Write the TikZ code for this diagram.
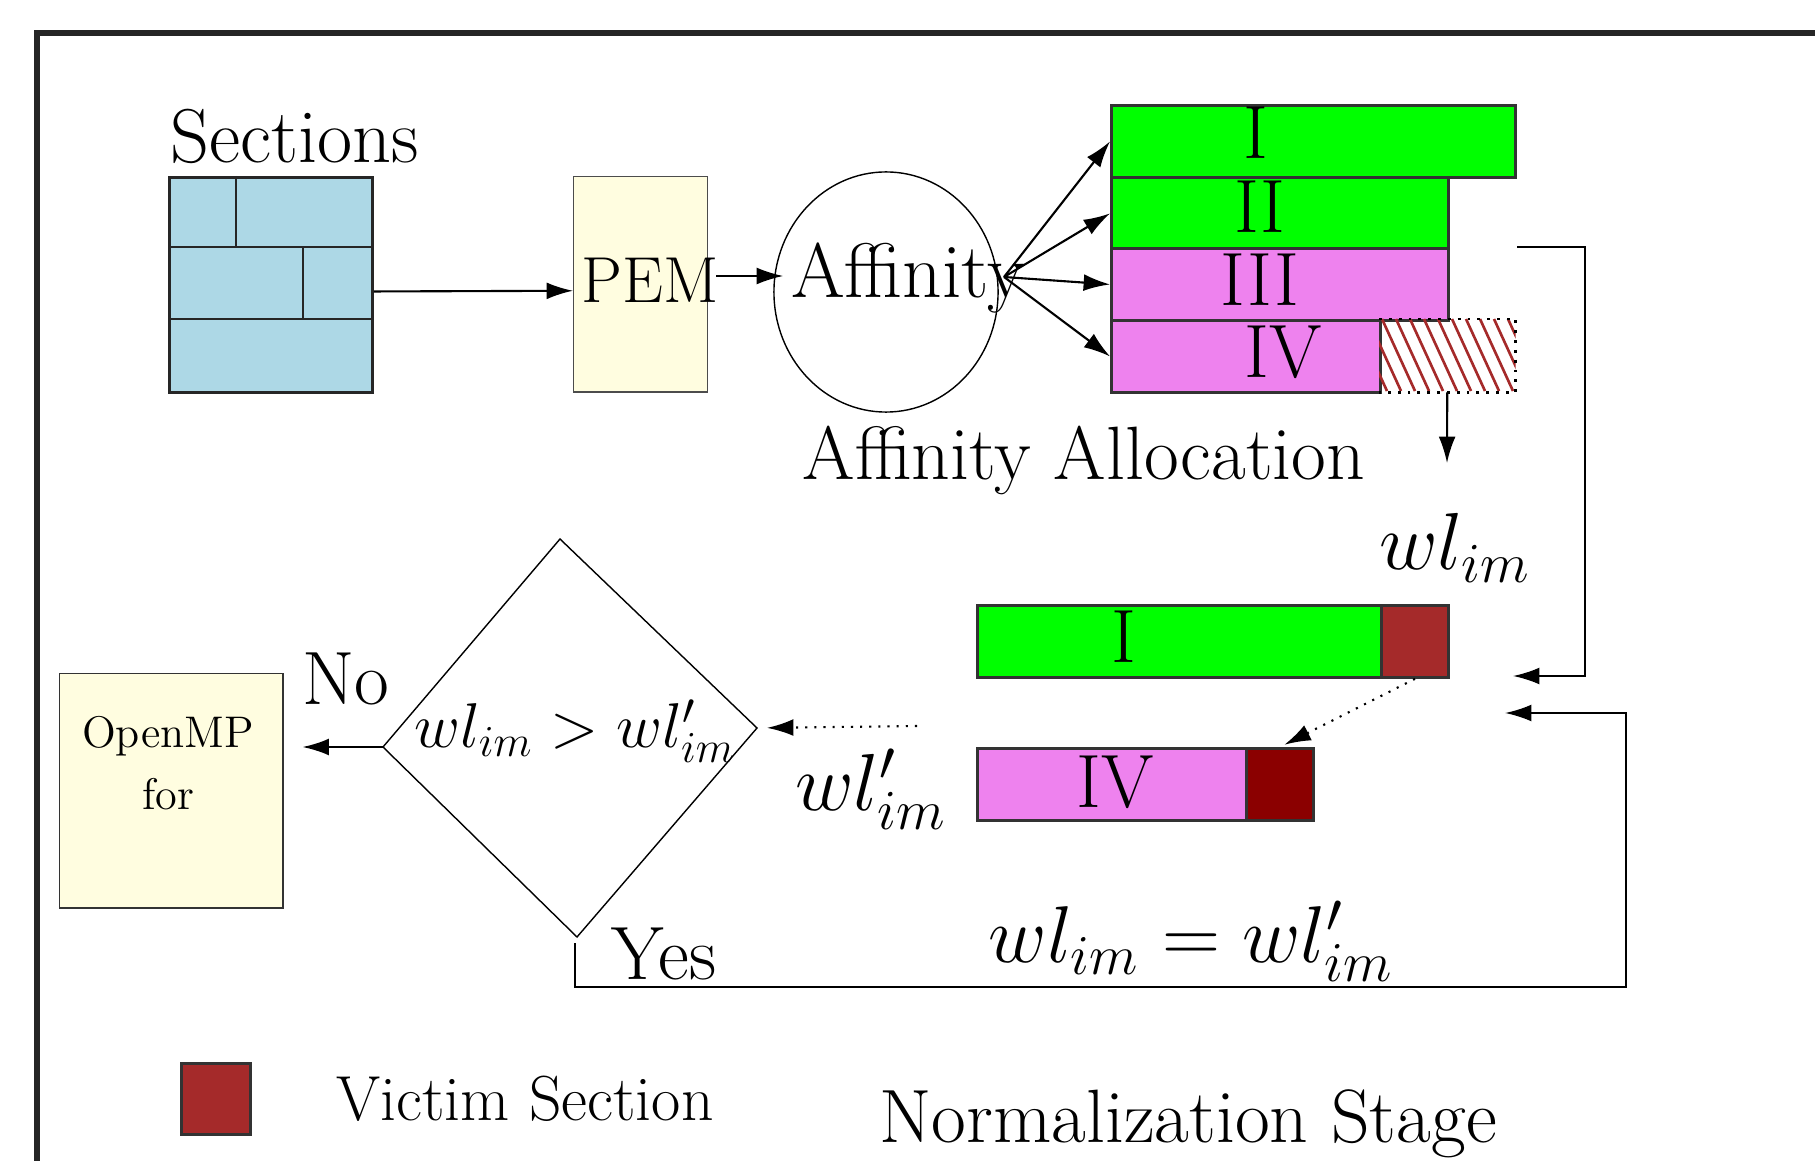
\RequirePackage{fix-cm}
\documentclass[tikz,border=0pt]{standalone}
\usetikzlibrary{shapes.geometric, arrows.meta}

\definecolor{secblue}{RGB}{173,216,230}
\definecolor{boxyellow}{RGB}{255,253,224}
\definecolor{bargreen}{RGB}{0,255,0}
\definecolor{barviolet}{RGB}{238,130,238}
\definecolor{victimred}{RGB}{165,42,42}
\definecolor{victimdark}{RGB}{139,0,0}

\newcommand{\bigfont}{\fontsize{21.5}{26}\selectfont}

\tikzstyle{line} = [draw, -{Latex[length=7.5pt,width=4.8pt]}]
\tikzstyle{bar} = [draw=black!80, thick, inner sep=0pt, anchor=north west, minimum height=0.72cm]
\tikzstyle{lbl} = [inner sep=0pt, anchor=base, font=\bigfont]

\begin{document}
\begin{tikzpicture}[x=0.01cm, y=-0.01cm]
	\useasboundingbox (0,0) rectangle (1815,1161);
	
	\draw[black!85, line width=1.5pt] (37,1175) -- (37,33) -- (1830,33); % frame
	
	% sections block
	\node[draw=black!85, thick, fill=secblue, inner sep=0pt, minimum width=2.03cm, minimum height=2.15cm, anchor=north west] (sec) at (168,176) {};
	\draw[black!85, thick] (168,247) -- (371,247) (168,319) -- (371,319);
	\draw[black!85, thick] (236,176) -- (236,247) (303,247) -- (303,319);
	\node[lbl, font=\fontsize{21.7}{26}\selectfont] (sectxt) at (295,163) {Sections};
	
	\node[draw=black!70, fill=boxyellow, inner sep=0pt, minimum width=1.34cm, minimum height=2.15cm, anchor=north west] (pem) at (573,176) {};
	\node[lbl, font=\fontsize{18.5}{22}\selectfont] (pemtxt) at (650,303) {PEM};
	\draw[line, semithick] ([yshift=-0.065cm]sec.east) -- ([yshift=-0.065cm]pem.west);
	
	% affinity
	\node[draw, thin, ellipse, minimum width=2.24cm, minimum height=2.4cm, inner sep=0pt] (affcirc) at (886,292) {};
	\node[lbl, font=\fontsize{22}{26}\selectfont] (aff) at (908,298) {Affinity};
	\coordinate (affin) at (783,276);
	\coordinate (affout) at (1004,277);
	\draw[line, thin, shorten <=0.08cm] (pem.east |- affin) -- (affin);
	\node[lbl] (alloc) at (1084,480) {Affinity Allocation};
	
	% allocated bars
	\node[bar, fill=bargreen, minimum width=4.04cm] (bar1) at (1110,104) {};
	\node[bar, fill=bargreen, minimum width=3.37cm] (bar2) at (1110,176) {};
	\node[bar, fill=barviolet, minimum width=3.37cm] (bar3) at (1110,247) {};
	\node[bar, fill=barviolet, minimum width=2.69cm] (bar4) at (1110,319) {};
	\node[inner sep=0pt, minimum width=1.35cm, minimum height=0.72cm, anchor=north west] (hatch) at (1379,319) {};
	\begin{scope}
		\clip (hatch.north west) rectangle (hatch.south east);
		\foreach \x in {1340,1354,...,1508} \draw[victimred, line width=0.75pt] (\x,319) -- ++(33,72);
	\end{scope}
	\draw[dotted, thick] (hatch.north west) -- (hatch.north east) -- (hatch.south east) -- (hatch.south west);
	
	\node[lbl] (n1) at (1256,159) {I};
	\node[lbl] (n2) at (1260,233) {II};
	\node[lbl] (n3) at (1260,306) {III};
	\node[lbl] (n4) at (1283,378) {IV};
	
	\foreach \b in {bar1,bar2,bar3,bar4} \draw[line, semithick] (affout) -- (\b.west);
	
	% normalization
	\coordinate (wlout) at (1447,463);
	\coordinate (wlin) at (1513,676);
	\coordinate (wlin2) at (1505,713);
	\draw[line, semithick] (hatch.south) -- (wlout);
	\node[lbl, font=\fontsize{23}{27}\selectfont] (wl) at (1455,570) {$wl_{im}$};
	\draw[line, semithick] (bar1.east |- bar3.north) -- ++(68,0) |- (wlin);
	
	\node[bar, fill=bargreen, minimum width=4.04cm] (low1) at (976,604) {};
	\node[bar, fill=victimred, minimum width=0.67cm] (low1v) at (1380,604) {};
	\node[bar, fill=barviolet, minimum width=2.69cm] (low4) at (976,747) {};
	\node[bar, fill=victimdark, minimum width=0.67cm] (low4v) at (1245,747) {};
	\node[lbl] (m1) at (1124,662) {I};
	\node[lbl] (m4) at (1115,807) {IV};
	\draw[line, dotted, semithick, shorten >=0.05cm] (low1v.south) -- (low4v.north);
	
	\node[lbl, font=\fontsize{23}{27}\selectfont] (wlprime) at (871,810) {$wl'_{im}$};
	\coordinate (wlp) at (917,726);
	
	% decision
	\coordinate (dtop) at (560,539);
	\coordinate (dright) at (757,728);
	\coordinate (dbot) at (577,937);
	\coordinate (dleft) at (383,747);
	\draw[thin] (dtop) -- (dright) -- (dbot) -- (dleft) -- cycle;
	\node[lbl, font=\fontsize{18}{22}\selectfont] (cond) at (575,747) {$wl_{im} > wl'_{im}$};
	\draw[line, dotted, semithick, shorten >=0.1cm] (wlp) -- (dright);
	
	\node[draw=black!80, fill=boxyellow, inner sep=0pt, minimum width=2.23cm, minimum height=2.34cm, anchor=north west] (omp) at (59,673) {};
	\node[inner sep=0pt, align=center, anchor=north, font=\fontsize{12.6}{17.6}\selectfont] (omptxt) at (168,716) {OpenMP\\for};
	\draw[line, semithick, shorten >=0.19cm] (dleft) -- (dleft -| omp.east);
	\node[lbl] (no) at (346,704) {No};
	
	\node[lbl] (yes) at (664,979) {Yes};
	\coordinate (yesout) at (575,943);
	\draw[line, semithick] (yesout) -- ++(0,44) -- ++(1051,0) |- (wlin2);
	\node[lbl, font=\fontsize{22.9}{27}\selectfont] (wleq) at (1191,962) {$wl_{im} = wl'_{im}$};
	
	% legend
	\node[draw=black!80, thick, fill=victimred, inner sep=0pt, minimum width=0.69cm, minimum height=0.71cm, anchor=north west] (legend) at (180,1062) {};
	\node[lbl, font=\fontsize{18.1}{22}\selectfont] (legendtxt) at (525,1120) {Victim Section};
	\node[lbl] (stage) at (1188,1142) {Normalization Stage};
	
\end{tikzpicture}
\end{document}
